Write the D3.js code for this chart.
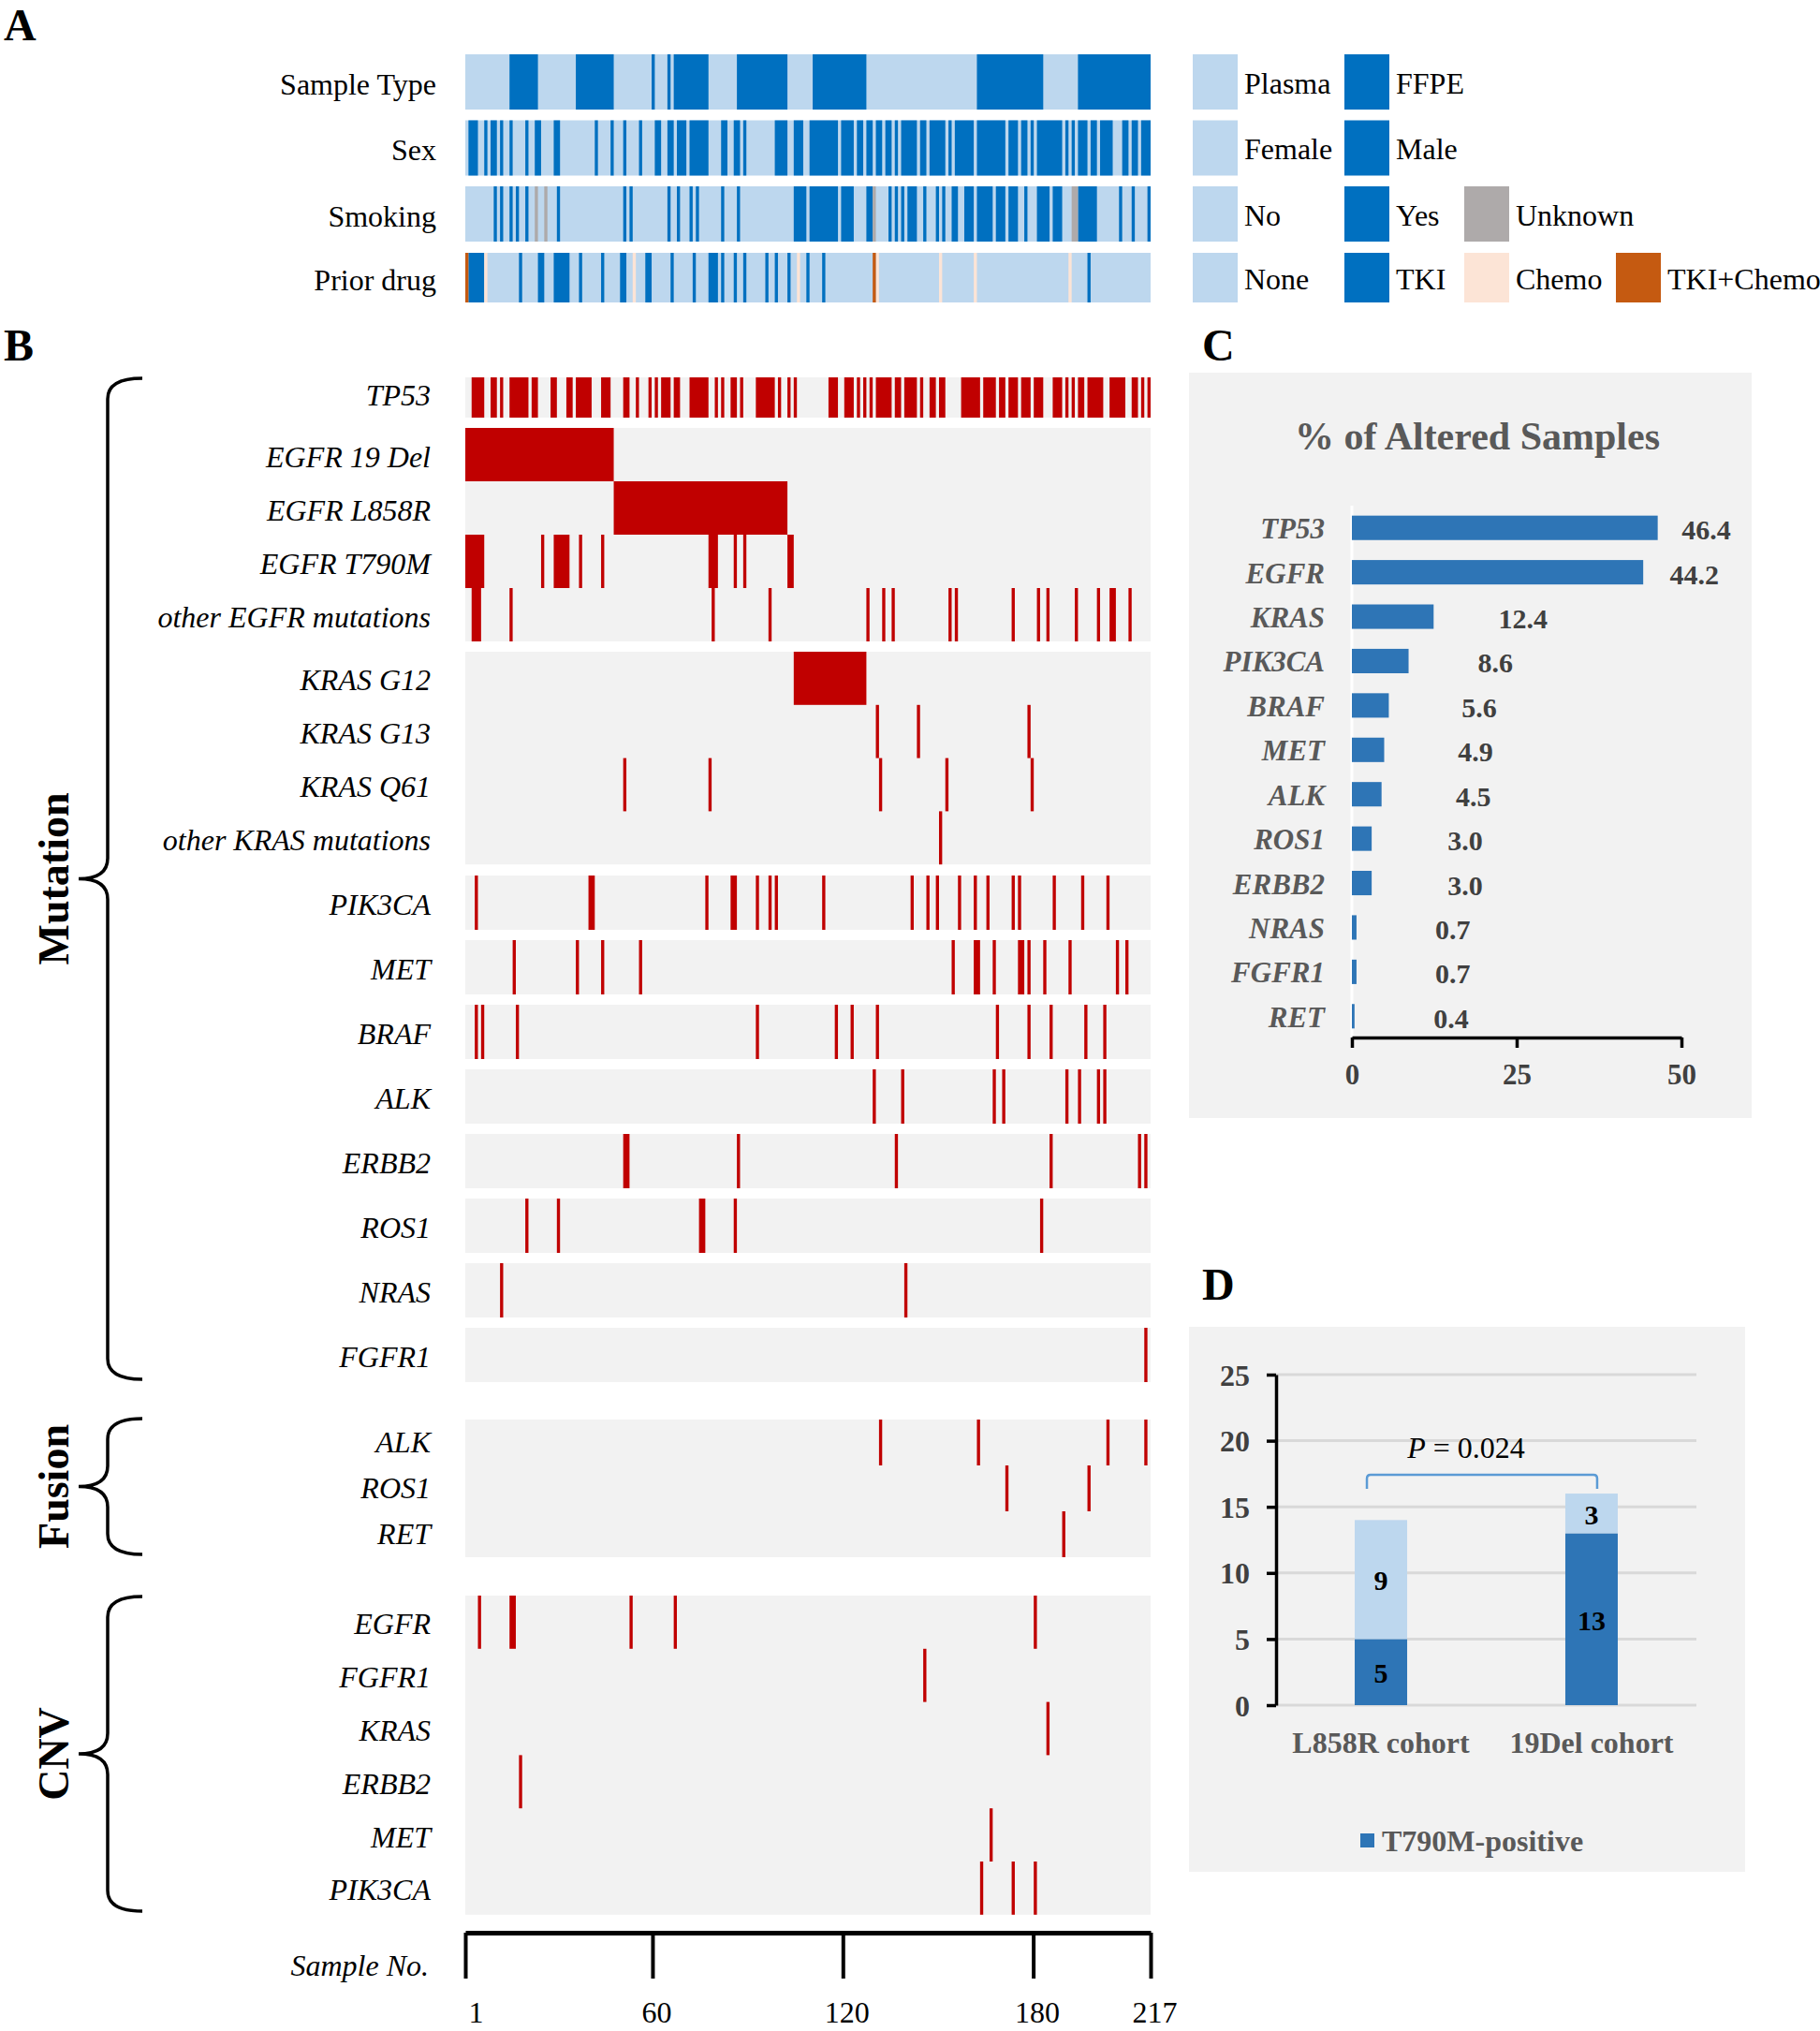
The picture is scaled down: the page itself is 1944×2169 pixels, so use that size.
<!DOCTYPE html>
<html><head><meta charset="utf-8">
<script src="https://cdn.jsdelivr.net/npm/d3@7"></script>
<style>
body{margin:0;background:#fff}
svg{display:block}
text{font-family:"Liberation Serif","Times New Roman",serif}
</style>
</head><body>
<svg id="fig" width="1944" height="2169"></svg>
<script>
// ================= DATA =================
// sample numbers 1..217 ; [a,b] = consecutive samples a..b
const sampleCount = 217;
const sampleAxisTicks = [1, 60, 120, 180, 217];

// Panel A clinical tracks (light-blue background = Plasma / Female / No / None)
const clinicalNames = ["Sample Type", "Sex", "Smoking", "Prior drug"];
const sampleTypeFFPE = [[15,23],[36,47],60,65,[67,77],[87,102],[111,127],[163,183],[195,217]];
const sexMale = [[2,4],7,[9,10],12,15,20,[23,24],[29,30],42,47,51,56,[61,62],[65,66],[68,70],[72,77],[82,83],[86,87],89,[99,102],[105,107],[110,118],[120,123],[125,126],[128,129],[131,132],[134,135],137,[139,143],[145,146],[148,152],154,[156,161],[163,171],[173,175],[177,178],180,[182,189],191,193,[195,197],[199,200],[202,205],[209,210],[212,213],[215,217]];
const smokingYes = [10,12,15,17,20,30,51,53,65,68,72,74,82,87,[105,108],[110,118],[120,123],[128,129],135,137,139,[141,143],146,150,152,[155,156],[159,161],[163,167],[169,171],[173,175],178,[182,185],[187,189],[195,200],208,212,217];
const smokingUnknown = [23,26,130,[193,194]];
const priorTKI = [[2,6],18,[24,25],[29,33],37,44,[50,51],[58,59],66,73,[78,80],82,86,89,96,99,103,109,114,198];
const priorChemo = [7,54,106,131,151,162,192];
const priorTKIChemo = [1,130];

const legendSampleType = ["Plasma", "FFPE"];
const legendSex = ["Female", "Male"];
const legendSmoking = ["No", "Yes", "Unknown"];
const legendPrior = ["None", "TKI", "Chemo", "TKI+Chemo"];

// Panel B alterations
const mutTP53 = [[3,6],[9,10],12,[15,20],[22,23],[28,29],[33,34],[36,40],[44,46],[51,52],55,59,61,[63,65],[67,68],[72,77],80,82,[85,86],88,[93,98],100,103,105,[116,118],[121,123],125,127,129,[131,135],[137,138],[140,143],145,[148,149],[151,152],[158,163],[165,168],[170,171],[173,175],[177,179],[181,183],[187,189],191,193,[195,196],[198,202],[205,209],[212,213],215,217];
const mutEGFR19Del = [[1,47]];
const mutEGFRL858R = [[48,102]];
const mutEGFRT790M = [[1,6],25,[29,33],37,44,[78,80],86,89,[103,104]];
const mutEGFROther = [[3,5],15,79,97,128,133,136,154,156,174,182,185,194,201,[205,206],211];
const mutKRASG12 = [[105,127]];
const mutKRASG13 = [131,144,179];
const mutKRASQ61 = [51,78,132,153,180];
const mutKRASOther = [151];
const mutPIK3CA = [4,[40,41],77,[85,86],93,97,99,114,142,147,150,157,162,166,174,176,187,196,204];
const mutMET = [16,36,44,56,155,[162,163],168,[176,177],179,184,192,207,210];
const mutBRAF = [4,6,17,93,118,123,131,169,179,186,197,203];
const mutALK = [130,139,168,171,191,195,201,203];
const mutERBB2 = [[51,52],87,137,186,214,216];
const mutROS1 = [20,30,[75,76],86,183];
const mutNRAS = [12,140];
const mutFGFR1 = [216];
const fusALK = [132,163,204,216];
const fusROS1 = [172,198];
const fusRET = [190];
const cnvEGFR = [5,[15,16],53,67,181];
const cnvFGFR1 = [146];
const cnvKRAS = [185];
const cnvERBB2 = [18];
const cnvMET = [167];
const cnvPIK3CA = [164,174,181];

// Panel C
const altGenes = ["TP53","EGFR","KRAS","PIK3CA","BRAF","MET","ALK","ROS1","ERBB2","NRAS","FGFR1","RET"];
const altPercent = [46.4,44.2,12.4,8.6,5.6,4.9,4.5,3.0,3.0,0.7,0.7,0.4];
const altAxisTicks = [0,25,50];

// Panel D
const cohorts = ["L858R cohort","19Del cohort"];
const t790mPositive = [5,13];
const t790mNegative = [9,3];
const cohortAxisTicks = [0,5,10,15,20,25];
const pValueText = "0.024";

// ================= HELPERS =================
function expand(list){
  const out=[];
  list.forEach(d=>{ if(Array.isArray(d)){ for(let s=d[0]; s<=d[1]; s++) out.push(s);} else out.push(d); });
  return out;
}
function runs(list){
  const s = expand(list).sort((a,b)=>a-b), out=[];
  s.forEach(v=>{ const last=out[out.length-1]; if(last && v===last[1]+1) last[1]=v; else out.push([v,v]); });
  return out;
}

const svg = d3.select("#fig");
const C = {
  light:"#bdd7ee", dark:"#0070c0", gray:"#aeaaaa", peach:"#fce4d6", orange:"#c55a11",
  red:"#c00000", bg:"#f2f2f2", bar:"#2e75b6", txtGray:"#595959", axGray:"#404040"
};

const samples = d3.range(1, sampleCount+1);
const sx = d3.scaleBand().domain(samples).range([497, 1229]).padding(0);

function drawRuns(g, list, y, h, color){
  g.selectAll(null).data(runs(list)).join("rect")
    .attr("x", d=>sx(d[0]))
    .attr("width", d=>sx(d[1]) + sx.bandwidth() - sx(d[0]))
    .attr("y", y).attr("height", h).attr("fill", color);
}

// ================= PANEL A =================
svg.append("text").attr("x",4).attr("y",43).attr("font-size",48).attr("font-weight","bold").text("A");

const clinY = [58, 128.5, 199, 270], clinH = [59, 59, 59, 53];
const clinLayers = [
  [[sampleTypeFFPE, C.dark]],
  [[sexMale, C.dark]],
  [[smokingYes, C.dark],[smokingUnknown, C.gray]],
  [[priorTKI, C.dark],[priorChemo, C.peach],[priorTKIChemo, C.orange]]
];
const gA = svg.append("g");
clinicalNames.forEach((name,i)=>{
  gA.append("rect").attr("x",sx(1)).attr("width",sx(sampleCount)+sx.bandwidth()-sx(1))
    .attr("y",clinY[i]).attr("height",clinH[i]).attr("fill",C.light);
  clinLayers[i].forEach(([list,col])=>drawRuns(gA,list,clinY[i],clinH[i],col));
  gA.append("text").attr("x",466).attr("y",clinY[i]+clinH[i]/2+2).attr("text-anchor","end")
    .attr("dominant-baseline","central").attr("font-size",32).text(name);
});

// legend
const legendRows = [
  [[legendSampleType[0],C.light],[legendSampleType[1],C.dark]],
  [[legendSex[0],C.light],[legendSex[1],C.dark]],
  [[legendSmoking[0],C.light],[legendSmoking[1],C.dark],[legendSmoking[2],C.gray]],
  [[legendPrior[0],C.light],[legendPrior[1],C.dark],[legendPrior[2],C.peach],[legendPrior[3],C.orange]]
];
const legX = [1274, 1436, 1564, 1726];
legendRows.forEach((row,i)=>{
  row.forEach(([lab,col],j)=>{
    gA.append("rect").attr("x",legX[j]).attr("y",clinY[i]).attr("width",48).attr("height",clinH[i]).attr("fill",col);
    gA.append("text").attr("x",legX[j]+55).attr("y",clinY[i]+clinH[i]/2+1).attr("dominant-baseline","central")
      .attr("font-size",32).text(lab);
  });
});

// ================= PANEL B =================
svg.append("text").attr("x",4).attr("y",385).attr("font-size",48).attr("font-weight","bold").text("B");
const gB = svg.append("g");

const blocks = [
  {y:403, h:43, lift:5, rows:[["TP53",mutTP53]]},
  {y:457, h:57, lift:0, rows:[["EGFR 19 Del",mutEGFR19Del],["EGFR L858R",mutEGFRL858R],["EGFR T790M",mutEGFRT790M],["other EGFR mutations",mutEGFROther]]},
  {y:696, h:56.8, lift:0, rows:[["KRAS G12",mutKRASG12],["KRAS G13",mutKRASG13],["KRAS Q61",mutKRASQ61],["other KRAS mutations",mutKRASOther]]}
];
[["PIK3CA",mutPIK3CA],["MET",mutMET],["BRAF",mutBRAF],["ALK",mutALK],["ERBB2",mutERBB2],["ROS1",mutROS1],["NRAS",mutNRAS],["FGFR1",mutFGFR1]]
  .forEach((r,i)=>blocks.push({y:935+i*69, h:58, lift:0, rows:[r]}));
blocks.push({y:1516, h:49, lift:3, rows:[["ALK",fusALK],["ROS1",fusROS1],["RET",fusRET]]});
blocks.push({y:1704, h:56.8, lift:0, rows:[["EGFR",cnvEGFR],["FGFR1",cnvFGFR1],["KRAS",cnvKRAS],["ERBB2",cnvERBB2],["MET",cnvMET],["PIK3CA",cnvPIK3CA]]});

blocks.forEach(b=>{
  gB.append("rect").attr("x",sx(1)).attr("width",sx(sampleCount)+sx.bandwidth()-sx(1))
    .attr("y",b.y).attr("height",b.h*b.rows.length).attr("fill",C.bg);
  b.rows.forEach(([lab,list],k)=>{
    const y = b.y + k*b.h;
    drawRuns(gB,list,y,b.h,C.red);
    gB.append("text").attr("x",460).attr("y",y+b.h/2+2-b.lift).attr("text-anchor","end")
      .attr("dominant-baseline","central").attr("font-size",32).attr("font-style","italic").text(lab);
  });
});

// braces
function brace(top, bottom, label){
  const mid=(top+bottom)/2, xl=115, xr=152, xt=84, r=22;
  const p = `M${xr},${top} Q${xl},${top} ${xl},${top+r} L${xl},${mid-r} Q${xl},${mid} ${xt},${mid} Q${xl},${mid} ${xl},${mid+r} L${xl},${bottom-r} Q${xl},${bottom} ${xr},${bottom}`;
  gB.append("path").attr("d",p).attr("fill","none").attr("stroke","#000").attr("stroke-width",3.5);
  gB.append("text").attr("transform",`translate(57,${mid}) rotate(-90)`).attr("text-anchor","middle")
    .attr("dominant-baseline","central").attr("font-size",46).attr("font-weight","bold").text(label);
}
brace(404, 1473, "Mutation");
brace(1515, 1660, "Fusion");
brace(1705, 2041, "CNV");

// sample axis
const axX = d3.scaleLinear().domain([1, sampleCount]).range([497, 1229]);
const gAx = svg.append("g").attr("transform","translate(0,2064)")
  .call(d3.axisBottom(axX).tickValues(sampleAxisTicks).tickSize(49).tickSizeOuter(0).tickFormat(d3.format("d")));
gAx.select(".domain").attr("stroke","#000").attr("stroke-width",5);
gAx.selectAll(".tick line").attr("stroke","#000").attr("stroke-width",4);
gAx.selectAll(".tick text").attr("y",96).attr("dy",0).attr("dx",(d,i)=>i===0?11:4).attr("font-size",32)
  .attr("font-family","'Liberation Serif',serif").attr("fill","#000");
svg.append("text").attr("x",458).attr("y",2099).attr("text-anchor","end").attr("dominant-baseline","central")
  .attr("font-size",32).attr("font-style","italic").text("Sample No.");

// ================= PANEL C =================
svg.append("text").attr("x",1284).attr("y",385).attr("font-size",48).attr("font-weight","bold").text("C");
const gC = svg.append("g");
gC.append("rect").attr("x",1270).attr("y",398).attr("width",601).attr("height",796).attr("fill",C.bg);
gC.append("text").attr("x",1578).attr("y",466).attr("text-anchor","middle").attr("dominant-baseline","central")
  .attr("font-size",42).attr("font-weight","bold").attr("fill",C.txtGray).text("% of Altered Samples");
const cx = d3.scaleLinear().domain([0,50]).range([1444,1796]);
const cy = d3.scaleBand().domain(altGenes).range([540,1109]).paddingInner(0.45).paddingOuter(0.225);
const cLab = d3.scaleLinear().domain([0,50]).range([1529,1817]);
gC.append("line").attr("x1",cx(0)).attr("x2",cx(0)).attr("y1",540).attr("y2",1108).attr("stroke","#fff").attr("stroke-width",3);
gC.selectAll(".bar").data(altGenes).join("rect")
  .attr("x",cx(0)).attr("y",d=>cy(d)).attr("height",cy.bandwidth())
  .attr("width",(d,i)=>Math.max(1.5,cx(altPercent[i])-cx(0))).attr("fill",C.bar);
gC.selectAll(".glab").data(altGenes).join("text")
  .attr("x",1415).attr("y",d=>cy(d)+cy.bandwidth()/2+1).attr("text-anchor","end").attr("dominant-baseline","central")
  .attr("font-size",31).attr("font-weight","bold").attr("font-style","italic").attr("fill",C.txtGray).text(d=>d);
gC.selectAll(".vlab").data(altGenes).join("text")
  .attr("x",(d,i)=>cLab(altPercent[i])).attr("y",d=>cy(d)+cy.bandwidth()/2+2).attr("dominant-baseline","central")
  .attr("font-size",30).attr("font-weight","bold").attr("fill",C.axGray).text((d,i)=>altPercent[i].toFixed(1));
const gCax = gC.append("g").attr("transform","translate(0,1108)")
  .call(d3.axisBottom(cx).tickValues(altAxisTicks).tickSize(11).tickSizeOuter(0));
gCax.select(".domain").attr("stroke","#000").attr("stroke-width",3.5);
gCax.selectAll(".tick line").attr("stroke","#000").attr("stroke-width",3.5);
gCax.selectAll(".tick text").attr("y",39).attr("dy",0).attr("dominant-baseline","central").attr("font-size",31)
  .attr("font-weight","bold").attr("font-family","'Liberation Serif',serif").attr("fill",C.axGray);

// ================= PANEL D =================
svg.append("text").attr("x",1284).attr("y",1388).attr("font-size",48).attr("font-weight","bold").text("D");
const gD = svg.append("g");
gD.append("rect").attr("x",1270).attr("y",1417).attr("width",594).attr("height",582).attr("fill",C.bg);
const dy = d3.scaleLinear().domain([0,25]).range([1821,1468]);
const dx = d3.scaleBand().domain(cohorts).range([1363,1812]).paddingInner(0.751).paddingOuter(0.3735);
gD.selectAll(".grid").data(cohortAxisTicks).join("line")
  .attr("x1",1363).attr("x2",1812).attr("y1",d=>dy(d)).attr("y2",d=>dy(d)).attr("stroke","#d9d9d9").attr("stroke-width",3);
const table = cohorts.map((c,i)=>({cohort:c, positive:t790mPositive[i], negative:t790mNegative[i]}));
const stacked = d3.stack().keys(["positive","negative"])(table);
const segColor = {positive:C.bar, negative:C.light};
stacked.forEach(layer=>{
  gD.selectAll(null).data(layer).join("rect")
    .attr("x",d=>dx(d.data.cohort)).attr("width",dx.bandwidth())
    .attr("y",d=>dy(d[1])).attr("height",d=>dy(d[0])-dy(d[1])).attr("fill",segColor[layer.key]);
  gD.selectAll(null).data(layer).join("text")
    .attr("x",d=>dx(d.data.cohort)+dx.bandwidth()/2).attr("y",d=>dy((d[0]+d[1])/2)+1)
    .attr("text-anchor","middle").attr("dominant-baseline","central").attr("font-size",30).attr("font-weight","bold")
    .attr("fill","#000").text(d=>d.data[layer.key]);
});
const gDax = gD.append("g").attr("transform","translate(1363,0)")
  .call(d3.axisLeft(dy).tickValues(cohortAxisTicks).tickSize(10).tickSizeOuter(0).tickPadding(18));
gDax.select(".domain").attr("stroke","#000").attr("stroke-width",3.5);
gDax.selectAll(".tick line").attr("stroke","#000").attr("stroke-width",3.5);
gDax.selectAll(".tick text").attr("dy",0).attr("dominant-baseline","central").attr("font-size",32)
  .attr("font-weight","bold").attr("font-family","'Liberation Serif',serif").attr("fill",C.axGray);
gD.selectAll(".clab").data(cohorts).join("text")
  .attr("x",d=>dx(d)+dx.bandwidth()/2).attr("y",1861).attr("text-anchor","middle").attr("dominant-baseline","central")
  .attr("font-size",32).attr("font-weight","bold").attr("fill",C.txtGray).text(d=>d);
// significance bracket
const bx1 = dx(cohorts[0]) + dx.bandwidth()/2 - 15, bx2 = dx(cohorts[1]) + dx.bandwidth()/2 + 6, by = 1575;
gD.append("path").attr("d",`M${bx1},1590 L${bx1},${by+4} Q${bx1},${by} ${bx1+4},${by} L${bx2-4},${by} Q${bx2},${by} ${bx2},${by+4} L${bx2},1590`)
  .attr("fill","none").attr("stroke","#5b9bd5").attr("stroke-width",2.5);
const pt = gD.append("text").attr("x",1566).attr("y",1546).attr("text-anchor","middle").attr("dominant-baseline","central")
  .attr("font-size",32).attr("fill","#000");
pt.append("tspan").attr("font-style","italic").text("P");
pt.append("tspan").text(" = " + pValueText);
// legend
gD.append("rect").attr("x",1453).attr("y",1958).attr("width",15).attr("height",15).attr("fill",C.bar);
gD.append("text").attr("x",1476).attr("y",1966).attr("dominant-baseline","central").attr("font-size",32)
  .attr("font-weight","bold").attr("fill",C.txtGray).text("T790M-positive");
</script>
</body></html>
